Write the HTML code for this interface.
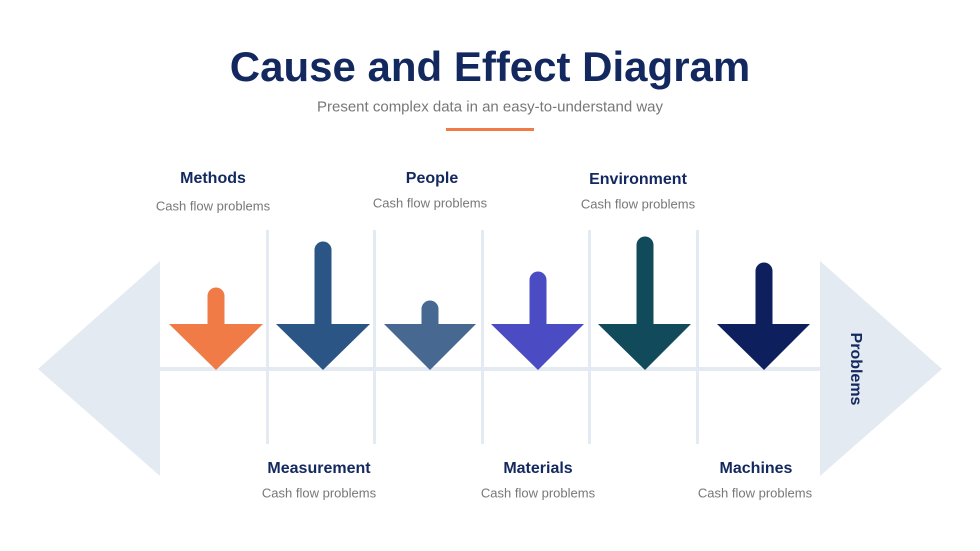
<!DOCTYPE html>
<html><head><style>
body{margin:0;width:980px;height:551px;background:#fff;position:relative;overflow:hidden;font-family:"Liberation Sans",sans-serif}
.t{position:absolute;transform:translate(-50%,-50%);white-space:nowrap}
.h{font-weight:bold;font-size:16px;color:#13285f}
.s{font-size:13px;color:#777}
</style></head><body>
<div class="t" style="left:490px;top:67px;font-size:42px;font-weight:bold;color:#13285f">Cause and Effect Diagram</div>
<div class="t" style="left:490px;top:107px;font-size:15px;color:#777">Present complex data in an easy-to-understand way</div>
<div style="position:absolute;left:446px;top:128px;width:88px;height:3px;background:#f07b47"></div>
<svg width="980" height="551" style="position:absolute;left:0;top:0">
<g fill="#e3eaf2">
<polygon points="160,261 160,476 38,369"/>
<polygon points="820,261 820,476 942,369"/>
<rect x="160" y="367" width="660" height="4"/>
<rect x="266" y="230" width="3" height="214"/>
<rect x="373" y="230" width="3" height="214"/>
<rect x="481" y="230" width="3" height="214"/>
<rect x="588" y="230" width="3" height="214"/>
<rect x="696" y="230" width="3" height="214"/>
</g>
<g stroke-linecap="round" stroke-width="17">
<line x1="216" y1="296" x2="216" y2="330" stroke="#f07b47"/>
<line x1="323" y1="250" x2="323" y2="330" stroke="#2a5585"/>
<line x1="430" y1="309" x2="430" y2="330" stroke="#466891"/>
<line x1="538" y1="280" x2="538" y2="330" stroke="#4b4cc4"/>
<line x1="645" y1="245" x2="645" y2="330" stroke="#114a5a"/>
<line x1="764" y1="271" x2="764" y2="330" stroke="#0e1f5e"/>
</g>
<polygon points="169,324 263,324 216,370" fill="#f07b47"/>
<polygon points="276,324 370,324 323,370" fill="#2a5585"/>
<polygon points="384,324 476,324 430,370" fill="#466891"/>
<polygon points="491,324 584,324 538,370" fill="#4b4cc4"/>
<polygon points="598,324 691,324 645,370" fill="#114a5a"/>
<polygon points="717,324 810,324 764,370" fill="#0e1f5e"/>
</svg>
<div class="t h" style="left:213px;top:179px">Methods</div>
<div class="t s" style="left:213px;top:206px">Cash flow problems</div>
<div class="t h" style="left:432px;top:179px">People</div>
<div class="t s" style="left:430px;top:203px">Cash flow problems</div>
<div class="t h" style="left:638px;top:180px">Environment</div>
<div class="t s" style="left:638px;top:204px">Cash flow problems</div>
<div class="t h" style="left:319px;top:469px">Measurement</div>
<div class="t s" style="left:319px;top:493px">Cash flow problems</div>
<div class="t h" style="left:538px;top:469px">Materials</div>
<div class="t s" style="left:538px;top:493px">Cash flow problems</div>
<div class="t h" style="left:756px;top:469px">Machines</div>
<div class="t s" style="left:755px;top:493px">Cash flow problems</div>
<div class="t h" style="left:855px;top:369px;transform:translate(-50%,-50%) rotate(90deg)">Problems</div>
</body></html>
